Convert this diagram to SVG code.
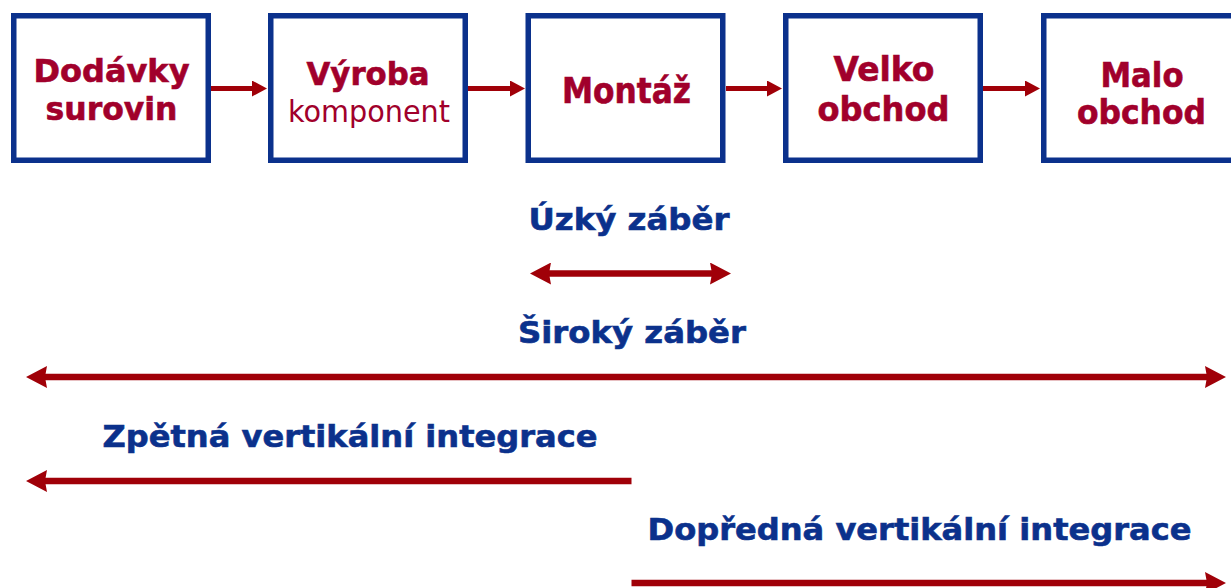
<svg xmlns="http://www.w3.org/2000/svg" width="1231" height="588" viewBox="0 0 1231 588">
  <style>
    .box { fill: #ffffff; stroke: #0b318c; stroke-width: 5.5; }
    .lbl { font-family: "DejaVu Sans", Verdana, sans-serif; font-weight: bold; fill: #a1002b; stroke: #a1002b; stroke-width: 0.6; text-anchor: middle; }
    .sub { font-family: "DejaVu Sans", Verdana, sans-serif; font-weight: normal; fill: #a1002b; text-anchor: middle; }
    .cap { font-family: "DejaVu Sans", Verdana, sans-serif; font-weight: bold; fill: #0b318c; stroke: #0b318c; stroke-width: 0.6; text-anchor: middle; font-size: 30px; }
    .flow { stroke: #a00008; stroke-width: 5; fill: none; }
    .span { stroke: #a00008; stroke-width: 6.5; fill: none; }
  </style>
  <defs>
    <!-- heads start at the line end and point forward -->
    <marker id="headSmall" markerUnits="userSpaceOnUse" markerWidth="16" markerHeight="16" refX="1" refY="8" orient="auto">
      <path d="M0,0 L15,8 L0,16 Z" fill="#a00008"/>
    </marker>
    <marker id="headBig" markerUnits="userSpaceOnUse" markerWidth="22" markerHeight="22" refX="2" refY="11" orient="auto-start-reverse">
      <path d="M0,0 L21,11 L0,22 L2,11 Z" fill="#a00008"/>
    </marker>
  </defs>

  <!-- supply chain stages -->
  <g id="dodavky">
    <rect class="box" x="13.75" y="15.75" width="194.5" height="144.5"/>
    <text class="lbl" x="111.5" y="82" font-size="32" textLength="156" lengthAdjust="spacingAndGlyphs">Dodávky</text>
    <text class="lbl" x="111.5" y="120" font-size="32" textLength="132" lengthAdjust="spacingAndGlyphs">surovin</text>
  </g>
  <g id="vyroba">
    <rect class="box" x="270.75" y="15.75" width="194.5" height="144.5"/>
    <text class="lbl" x="368" y="85" font-size="32" textLength="123" lengthAdjust="spacingAndGlyphs">Výroba</text>
    <text class="sub" x="369" y="121.5" font-size="30" textLength="162" lengthAdjust="spacingAndGlyphs">komponent</text>
  </g>
  <g id="montaz">
    <rect class="box" x="528.25" y="15.75" width="194.5" height="144.5"/>
    <text class="lbl" x="626.5" y="102.5" font-size="35" textLength="129" lengthAdjust="spacingAndGlyphs">Montáž</text>
  </g>
  <g id="velkoobchod">
    <rect class="box" x="785.75" y="15.75" width="194.5" height="144.5"/>
    <text class="lbl" x="884" y="81" font-size="33" textLength="101" lengthAdjust="spacingAndGlyphs">Velko</text>
    <text class="lbl" x="883.5" y="120.5" font-size="33" textLength="132" lengthAdjust="spacingAndGlyphs">obchod</text>
  </g>
  <g id="maloobchod">
    <rect class="box" x="1043.75" y="15.75" width="194.5" height="144.5"/>
    <text class="lbl" x="1142" y="87" font-size="33" textLength="83" lengthAdjust="spacingAndGlyphs">Malo</text>
    <text class="lbl" x="1141.5" y="124" font-size="33" textLength="129" lengthAdjust="spacingAndGlyphs">obchod</text>
  </g>

  <!-- scope captions -->
  <g id="captions">
    <text class="cap" x="629" y="230" textLength="201" lengthAdjust="spacingAndGlyphs">Úzký záběr</text>
    <text class="cap" x="632" y="343" textLength="228" lengthAdjust="spacingAndGlyphs">Široký záběr</text>
    <text class="cap" x="350" y="447" textLength="495" lengthAdjust="spacingAndGlyphs">Zpětná vertikální integrace</text>
    <text class="cap" x="919.5" y="540" textLength="544" lengthAdjust="spacingAndGlyphs">Dopředná vertikální integrace</text>
  </g>

  <!-- connectors -->
  <g id="connectors">
    <line class="flow" x1="211" y1="88.5" x2="253" y2="88.5" marker-end="url(#headSmall)"/>
    <line class="flow" x1="468" y1="88.5" x2="511" y2="88.5" marker-end="url(#headSmall)"/>
    <line class="flow" x1="726" y1="88.5" x2="768" y2="88.5" marker-end="url(#headSmall)"/>
    <line class="flow" x1="983" y1="88.5" x2="1026" y2="88.5" marker-end="url(#headSmall)"/>

    <line class="span" x1="549" y1="273.5" x2="712" y2="273.5" marker-start="url(#headBig)" marker-end="url(#headBig)"/>
    <line class="span" x1="45" y1="377" x2="1207" y2="377" marker-start="url(#headBig)" marker-end="url(#headBig)"/>
    <line class="span" x1="631.5" y1="481" x2="45" y2="481" marker-end="url(#headBig)"/>
    <line class="span" x1="631.5" y1="583" x2="1207" y2="583" marker-end="url(#headBig)"/>
  </g>
</svg>
